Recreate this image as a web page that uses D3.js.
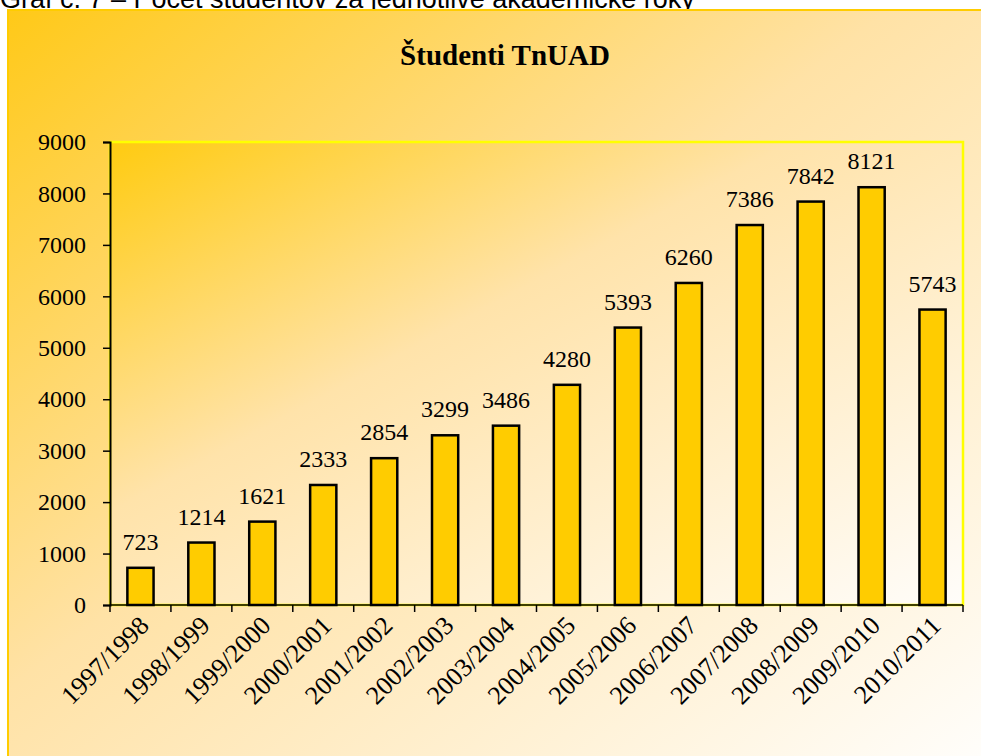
<!DOCTYPE html>
<html>
<head>
<meta charset="utf-8">
<script src="https://cdn.jsdelivr.net/npm/d3@7"></script>
<style>
  html, body { margin: 0; padding: 0; background: #fff; }
  svg { display: block; }
</style>
</head>
<body>
<svg id="chart" width="981" height="756"></svg>
<script>
const years = ["1997/1998", "1998/1999", "1999/2000", "2000/2001", "2001/2002",
  "2002/2003", "2003/2004", "2004/2005", "2005/2006", "2006/2007",
  "2007/2008", "2008/2009", "2009/2010", "2010/2011"];
const students = [723, 1214, 1621, 2333, 2854, 3299, 3486, 4280, 5393, 6260,
  7386, 7842, 8121, 5743];
const yTicks = [0, 1000, 2000, 3000, 4000, 5000, 6000, 7000, 8000, 9000];

const svg = d3.select("#chart"),
  width = +svg.attr("width"),
  height = +svg.attr("height");

const plot = { left: 110, right: 963, top: 142, bottom: 605 };
const serif = "'Liberation Serif', 'Times New Roman', serif";

const defs = svg.append("defs");
function diagGradient(id, stops) {
  const lg = defs.append("linearGradient").attr("id", id)
    .attr("x1", "0%").attr("y1", "0%").attr("x2", "100%").attr("y2", "100%");
  stops.forEach(([o, c]) => lg.append("stop").attr("offset", o).attr("stop-color", c));
}
diagGradient("bgGrad", [["0%", "#ffc918"], ["45%", "#ffe2a6"], ["100%", "#fffefc"]]);
diagGradient("plotGrad", [["0%", "#ffcb10"], ["40%", "#ffe3aa"], ["100%", "#fffdfa"]]);

// caption line above the chart (cut at top, as in the source)
svg.append("text")
  .attr("x", 0).attr("y", 8)
  .attr("font-family", "'Liberation Sans', Arial, sans-serif")
  .attr("font-size", "27px")
  .attr("fill", "#000")
  .text("Graf č. 7 – Počet študentov za jednotlivé akademické roky");

// chart area
svg.append("rect")
  .attr("x", 8).attr("y", 10)
  .attr("width", width).attr("height", height)
  .attr("fill", "url(#bgGrad)")
  .attr("stroke", "#ffcc00").attr("stroke-width", 2);

svg.append("text")
  .attr("x", 505).attr("y", 65)
  .attr("text-anchor", "middle")
  .attr("font-family", serif)
  .attr("font-weight", "bold")
  .attr("font-size", "29px")
  .text("Študenti TnUAD");

// plot area
svg.append("rect")
  .attr("x", plot.left).attr("y", plot.top)
  .attr("width", plot.right - plot.left).attr("height", plot.bottom - plot.top)
  .attr("fill", "url(#plotGrad)")
  .attr("stroke", "#ffff00").attr("stroke-width", 2.5);

const x = d3.scaleBand().domain(years)
  .range([plot.left, plot.right])
  .paddingInner(0.57).paddingOuter(0.285);
const y = d3.scaleLinear().domain([0, 9000]).range([plot.bottom, plot.top]);

// bars
svg.append("g").selectAll("rect")
  .data(years)
  .join("rect")
  .attr("x", (d) => x(d))
  .attr("y", (d, i) => y(students[i]))
  .attr("width", x.bandwidth())
  .attr("height", (d, i) => y(0) - y(students[i]))
  .attr("fill", "#ffcc00")
  .attr("stroke", "#000")
  .attr("stroke-width", 2.5);

// value labels
svg.append("g").selectAll("text")
  .data(years)
  .join("text")
  .attr("x", (d) => x(d) + x.bandwidth() / 2)
  .attr("y", (d, i) => y(students[i]) - 18)
  .attr("text-anchor", "middle")
  .attr("font-family", serif)
  .attr("font-size", "24px")
  .text((d, i) => students[i]);

// y axis
svg.append("g")
  .attr("transform", `translate(${plot.left},0)`)
  .call(d3.axisLeft(y).tickValues(yTicks).tickFormat(d3.format("d")).tickSize(7).tickPadding(17))
  .call((g) => g.selectAll("line").attr("stroke", "#000").attr("stroke-width", 1.5))
  .call((g) => g.select(".domain").attr("stroke", "#000").attr("stroke-width", 2))
  .call((g) => g.selectAll("text")
    .attr("font-family", serif).attr("font-size", "24px").attr("fill", "#000"));

// x axis: baseline + ticks between categories
const xAxis = svg.append("g");
xAxis.append("line")
  .attr("x1", plot.left).attr("x2", plot.right)
  .attr("y1", plot.bottom).attr("y2", plot.bottom)
  .attr("stroke", "#000").attr("stroke-width", 1.5);
xAxis.selectAll(".xtick")
  .data(d3.range(years.length + 1))
  .join("line")
  .attr("class", "xtick")
  .attr("x1", (i) => plot.left + i * x.step())
  .attr("x2", (i) => plot.left + i * x.step())
  .attr("y1", plot.bottom).attr("y2", plot.bottom + 7)
  .attr("stroke", "#000").attr("stroke-width", 1.5);

xAxis.selectAll(".xlabel")
  .data(years)
  .join("text")
  .attr("class", "xlabel")
  .attr("transform", (d) => `translate(${x(d) + x.bandwidth() / 2 + 10},${plot.bottom + 22}) rotate(-45)`)
  .attr("text-anchor", "end")
  .attr("font-family", serif)
  .attr("font-size", "26px")
  .text((d) => d);
</script>
</body>
</html>
